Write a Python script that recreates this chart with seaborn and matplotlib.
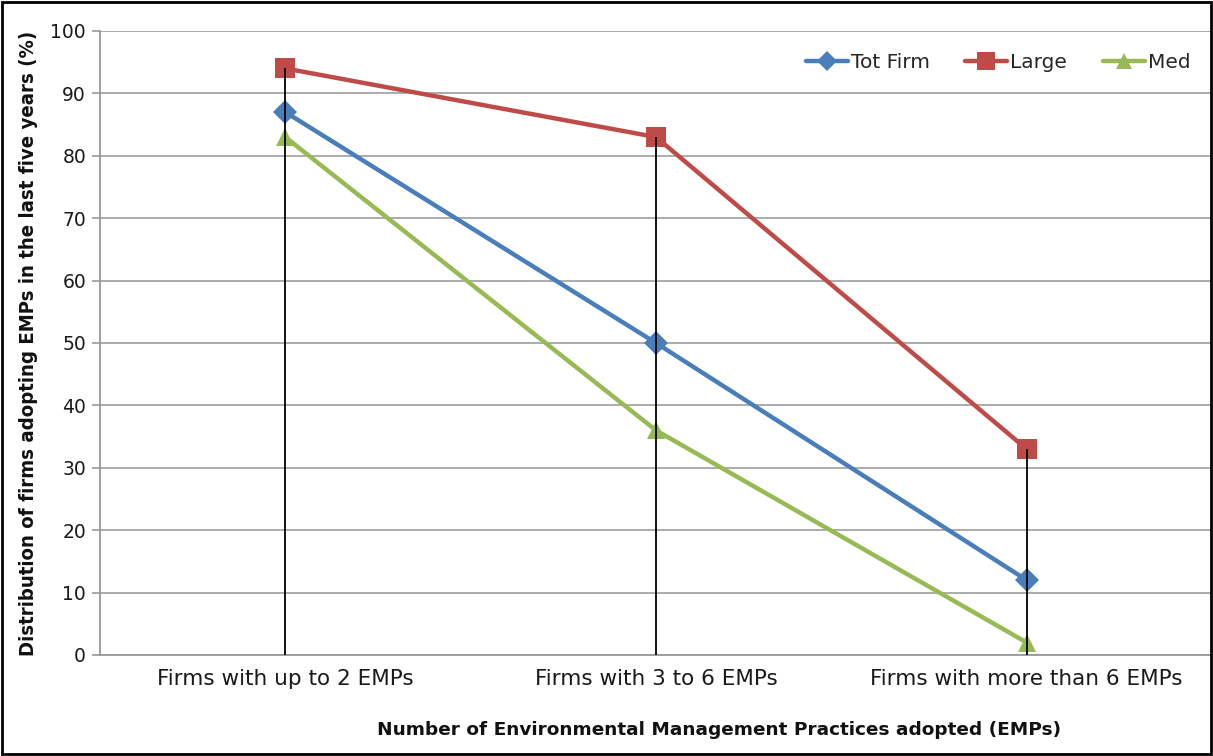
import matplotlib
matplotlib.use("Agg")
import matplotlib.pyplot as plt
import seaborn as sns
import pandas as pd
from matplotlib.patches import Rectangle

categories = ["Firms with up to 2 EMPs", "Firms with 3 to 6 EMPs", "Firms with more than 6 EMPs"]
tot_firm = [87, 50, 12]
large = [94, 83, 33]
med = [83, 36, 2]

series_names = ["Tot Firm", "Large", "Med"]
series_values = [tot_firm, large, med]
colors = ["#4A7EBB", "#BE4B48", "#98B954"]
markers = ["D", "s", "^"]
marker_sizes = [12, 14.5, 13.5]

sns.set_theme(style="white")
plt.rcParams["font.family"] = ["DejaVu Sans"]

fig = plt.figure(figsize=(12.13, 7.56), dpi=100)
ax = fig.add_axes([100 / 1213, (756 - 655) / 756, 1112 / 1213, 624 / 756])

rows = []
for name, vals in zip(series_names, series_values):
    for i, v in enumerate(vals):
        rows.append({"series": name, "x": i, "value": v})
df = pd.DataFrame(rows)

for name, color, mk, ms in zip(series_names, colors, markers, marker_sizes):
    sub = df[df["series"] == name]
    sns.lineplot(data=sub, x="x", y="value", ax=ax, color=color, linewidth=3.2,
                 marker=mk, markersize=ms, markeredgewidth=0, label=name, zorder=3)

# drop lines from the highest value of each category down to the axis
tops = [max(v) for v in zip(*series_values)]
ax.vlines(range(len(categories)), 0, tops, color="black", linewidth=1.3, zorder=4)

ax.set_xlim(-0.5, len(categories) - 0.5)
ax.set_ylim(0, 100)
ax.set_yticks(range(0, 101, 10))
ax.set_xticks(range(len(categories)))
ax.set_xticklabels(categories, fontsize=15.5, color="#1a1a1a")
ax.tick_params(axis="y", labelsize=13.5, colors="#1a1a1a", length=6, color="#999999",
               left=True, width=1.2, pad=4)
ax.tick_params(axis="x", length=0, pad=10)
ax.grid(axis="y", color="#A6A6A6", linewidth=1.3)
ax.grid(axis="x", visible=False)
for side in ["top", "right"]:
    ax.spines[side].set_visible(False)
for side in ["left", "bottom"]:
    ax.spines[side].set_color("#999999")
    ax.spines[side].set_linewidth(1.3)

ax.set_ylabel("Distribution of firms adopting EMPs in the last five years (%)",
              fontsize=14.6, fontweight="bold", fontstretch="condensed", color="#111111")
ax.yaxis.set_label_coords(-0.056, 0.5)
ax.set_xlabel("Number of Environmental Management Practices adopted (EMPs)",
              fontsize=13.3, fontweight="bold", color="#111111")
ax.xaxis.set_label_coords(0.557, -0.105)

leg = ax.legend(loc="upper right", bbox_to_anchor=(0.997, 0.993), ncol=3, frameon=False,
                fontsize=14.5, handlelength=2.1, handletextpad=0.15, columnspacing=1.75)
for h in leg.legend_handles:
    h.set_markersize(h.get_markersize() * 0.85)

fig.patches.append(Rectangle((0.0015, 0.002), 0.997, 0.995, transform=fig.transFigure,
                             fill=False, edgecolor="black", linewidth=2))

fig.savefig("out.png", dpi=100)
